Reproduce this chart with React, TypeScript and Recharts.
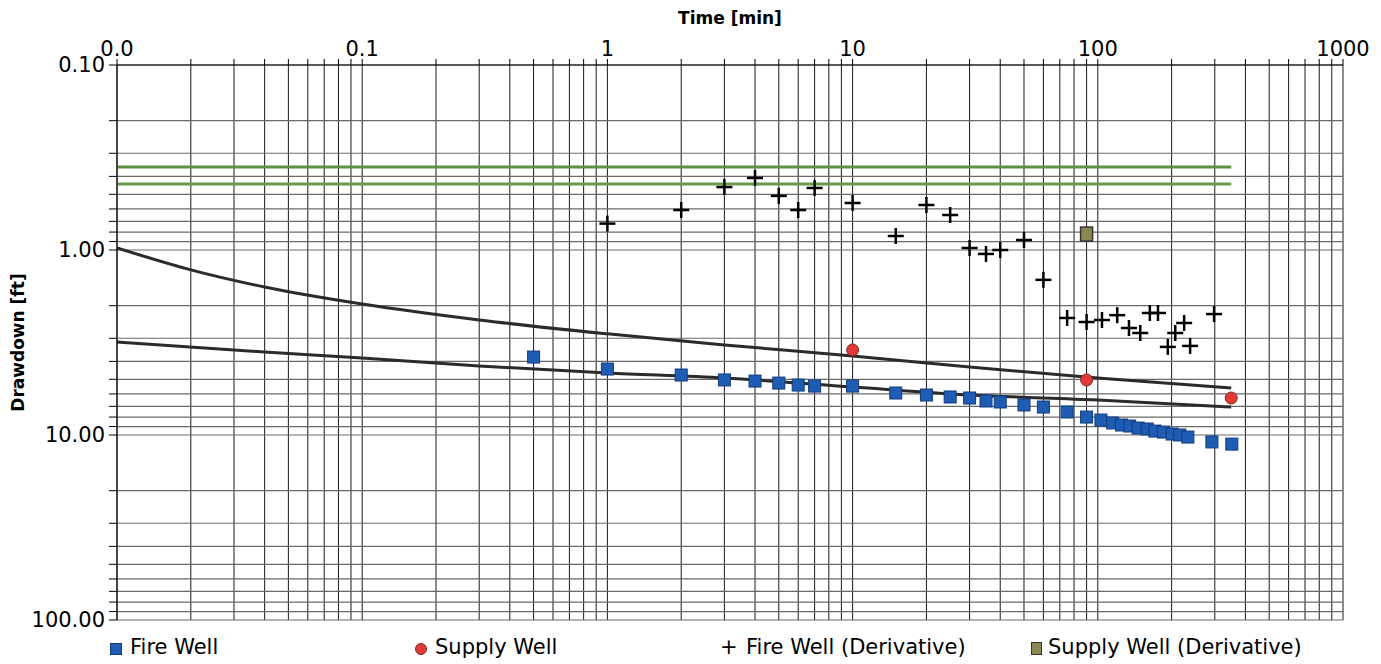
import React from 'react';
import { ComposedChart, Line, Scatter, XAxis, YAxis, CartesianGrid } from 'recharts';

// Fire well drawdown (ft) vs time (min)
const fireTime = [0.5, 1, 2, 3, 4, 5, 6, 7, 10, 15, 20, 25, 30, 35, 40, 50, 60, 75, 90, 103, 115, 125, 135, 146, 159, 171, 185, 201, 216, 233, 292, 352];
const fireDrawdown = [3.79, 4.4, 4.74, 5.04, 5.11, 5.24, 5.37, 5.44, 5.44, 5.93, 6.08, 6.23, 6.31, 6.55, 6.63, 6.88, 7.06, 7.51, 8.0, 8.3, 8.61, 8.83, 8.94, 9.17, 9.28, 9.52, 9.64, 9.88, 10.0, 10.26, 10.9, 11.2];

// Supply well
const supplyTime = [10, 90, 350];
const supplyDrawdown = [3.47, 5.04, 6.31];

// Fire well derivative
const fireDerivTime = [1, 2, 3, 4, 5, 6, 7, 10, 15, 20, 25, 30, 35, 40, 50, 60, 75, 90, 104, 120, 134, 149, 163, 176, 193, 207, 225, 238, 298];
const fireDerivValue = [0.72, 0.608, 0.457, 0.408, 0.51, 0.608, 0.462, 0.557, 0.84, 0.571, 0.647, 0.975, 1.05, 1.0, 0.883, 1.45, 2.33, 2.45, 2.39, 2.25, 2.64, 2.81, 2.19, 2.19, 3.34, 2.81, 2.48, 3.3, 2.22];

// Supply well derivative
const supplyDerivTime = [90];
const supplyDerivValue = [0.82];

// type curves
const curveTime = [0.01, 0.02, 0.04, 0.1, 0.3, 1, 3, 10, 30, 100, 350];
const upperCurveValue = [0.975, 1.28, 1.585, 1.96, 2.39, 2.84, 3.26, 3.74, 4.29, 4.92, 5.57];
const lowerCurveTime = [0.01, 0.04, 0.1, 0.3, 1, 3, 10, 30, 100, 350];
const lowerCurveValue = [3.14, 3.56, 3.84, 4.24, 4.62, 4.92, 5.5, 6.08, 6.47, 7.06];

// derivative straight lines (green)
const greenLineTime = [0.01, 350];
const greenUpperValue = [0.356, 0.356];
const greenLowerValue = [0.44, 0.44];

const xDecades = [0.01, 0.1, 1, 10, 100, 1000];
const xDecadeLabels = ['0.0', '0.1', '1', '10', '100', '1000'];
const yDecades = [0.1, 1, 10, 100];
const yDecadeLabels = ['0.10', '1.00', '10.00', '100.00'];
const minorSteps = [1, 2, 3, 4, 5, 6, 7, 8, 9];

const buildTicks = (decades: number[]) =>
  decades.flatMap((d, i) =>
    i === decades.length - 1 ? [d] : minorSteps.map((m) => +(d * m).toPrecision(6))
  );

const labelFor = (decades: number[], labels: string[]) => (v: number) => {
  const i = decades.findIndex((d) => Math.abs(d - v) / d < 1e-6);
  return i >= 0 ? labels[i] : '';
};

const toPoints = (ts: number[], ds: number[]) => ts.map((t, i) => ({ t, d: ds[i] }));

const BlueSquare = (props: any) => {
  const { cx, cy } = props;
  return <rect x={cx - 6} y={cy - 6} width={12} height={12} fill="#1f5cb3" stroke="#123c7c" strokeWidth={1} />;
};
const RedDot = (props: any) => {
  const { cx, cy } = props;
  return <circle cx={cx} cy={cy} r={6} fill="#e23a36" stroke="#7c2a22" strokeWidth={1} />;
};
const Plus = (props: any) => {
  const { cx, cy } = props;
  return (
    <g stroke="#000" strokeWidth={2.5}>
      <line x1={cx - 8} y1={cy} x2={cx + 8} y2={cy} />
      <line x1={cx} y1={cy - 8} x2={cx} y2={cy + 8} />
    </g>
  );
};
const OliveSquare = (props: any) => {
  const { cx, cy } = props;
  return <rect x={cx - 6} y={cy - 7} width={12} height={14} fill="#8a8752" stroke="#333" strokeWidth={1.5} />;
};

const tickStyle = { fontFamily: 'DejaVu Sans', fontSize: 21, fill: '#000' };
const legendText: React.CSSProperties = { position: 'absolute', top: 0, fontFamily: 'DejaVu Sans', fontSize: 21, color: '#000', whiteSpace: 'nowrap' };

export default function App() {
  return (
    <div style={{ position: 'relative', width: 1373, height: 656 }}>
      <ComposedChart width={1373} height={628} margin={{ top: 0, right: 38, left: 0, bottom: 16 }}>
        <CartesianGrid horizontal={false} stroke="#1a1a1a" strokeWidth={1} />
        <CartesianGrid vertical={false} stroke="#6a6a6a" strokeWidth={1.2} />
        <XAxis
          dataKey="t"
          type="number"
          scale="log"
          orientation="top"
          domain={[0.01, 1000]}
          allowDataOverflow
          ticks={buildTicks(xDecades)}
          tickFormatter={labelFor(xDecades, xDecadeLabels)}
          interval={0}
          height={57}
          tickSize={6}
          tickMargin={3}
          stroke="#000"
          tick={tickStyle}
          label={{ value: 'Time [min]', position: 'insideTop', offset: 4, style: { fontFamily: 'DejaVu Sans', fontWeight: 'bold', fontSize: 17, fill: '#000' } }}
        />
        <YAxis
          dataKey="d"
          type="number"
          scale="log"
          reversed
          domain={[0.1, 100]}
          allowDataOverflow
          ticks={buildTicks(yDecades)}
          tickFormatter={labelFor(yDecades, yDecadeLabels)}
          interval={0}
          width={109}
          tickSize={8}
          tickMargin={4}
          stroke="#000"
          tick={tickStyle}
          label={{ value: 'Drawdown [ft]', angle: -90, position: 'insideLeft', offset: 10, style: { textAnchor: 'middle', fontFamily: 'DejaVu Sans', fontWeight: 'bold', fontSize: 17, fill: '#000' } }}
        />
        <Line data={toPoints(greenLineTime, greenUpperValue)} dataKey="d" stroke="#5f8f44" strokeWidth={3} dot={false} isAnimationActive={false} />
        <Line data={toPoints(greenLineTime, greenLowerValue)} dataKey="d" stroke="#6b9a48" strokeWidth={3} dot={false} isAnimationActive={false} />
        <Line data={toPoints(curveTime, upperCurveValue)} type="monotone" dataKey="d" stroke="#2b2b2b" strokeWidth={3} dot={false} isAnimationActive={false} />
        <Line data={toPoints(lowerCurveTime, lowerCurveValue)} type="monotone" dataKey="d" stroke="#2b2b2b" strokeWidth={3} dot={false} isAnimationActive={false} />
        <Scatter name="Fire Well" data={toPoints(fireTime, fireDrawdown)} shape={BlueSquare} isAnimationActive={false} />
        <Scatter name="Supply Well" data={toPoints(supplyTime, supplyDrawdown)} shape={RedDot} isAnimationActive={false} />
        <Scatter name="Fire Well (Derivative)" data={toPoints(fireDerivTime, fireDerivValue)} shape={Plus} isAnimationActive={false} />
        <Scatter name="Supply Well (Derivative)" data={toPoints(supplyDerivTime, supplyDerivValue)} shape={OliveSquare} isAnimationActive={false} />
      </ComposedChart>
      <div style={{ position: 'absolute', left: 0, top: 627, width: 1373, height: 29 }}>
        <span style={{ position: 'absolute', left: 102, top: 8, width: 10, height: 10, background: '#1f5cb3', border: '1px solid #123c7c' }} />
        <span style={{ ...legendText, left: 122 }}>Fire Well</span>
        <span style={{ position: 'absolute', left: 407, top: 8, width: 10, height: 10, borderRadius: 6, background: '#e23a36', border: '1px solid #7c2a22' }} />
        <span style={{ ...legendText, left: 427 }}>Supply Well</span>
        <span style={{ ...legendText, left: 712 }}>+</span>
        <span style={{ ...legendText, left: 738 }}>Fire Well (Derivative)</span>
        <span style={{ position: 'absolute', left: 1023, top: 7, width: 9, height: 11, background: '#8a8752', border: '1px solid #333' }} />
        <span style={{ ...legendText, left: 1040 }}>Supply Well (Derivative)</span>
      </div>
    </div>
  );
}
